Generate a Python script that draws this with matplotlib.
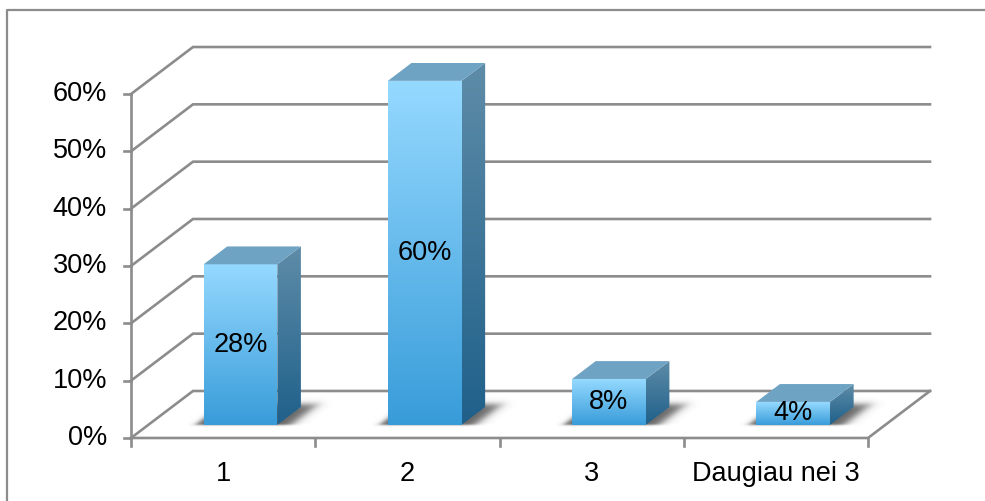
import numpy as np
import matplotlib.pyplot as plt
from matplotlib.patches import Polygon
from matplotlib.colors import LinearSegmentedColormap
from matplotlib.lines import Line2D

categories = ['1', '2', '3', 'Daugiau nei 3']
values = [28, 60, 8, 4]
y_ticks = [0, 10, 20, 30, 40, 50, 60]
y_tick_labels = ['0%', '10%', '20%', '30%', '40%', '50%', '60%']

plt.rcParams['font.family'] = ['Liberation Sans', 'DejaVu Sans']

# oblique projection of the depth axis
DX = 0.3365          # x shift of the back wall (categories)
DY = 8.2             # y shift of the back wall (percent)
Z0, Z1 = 0.28, 0.66  # front and back of the bars, fraction of the depth
BAR_W = 0.4
GRID = '#8c8c8c'
FS = 19.5

front_cmap = LinearSegmentedColormap.from_list('front', ['#389cd9', '#95d9ff'])
side_cmap = LinearSegmentedColormap.from_list('side', ['#1f608a', '#5e8ca8'])
TOP_COLOR = '#6fa3c4'


def proj(x, y, z):
    return (x + z * DX, y + z * DY)


def gradient_face(ax, verts, cmap, zorder):
    poly = Polygon(verts, closed=True, facecolor='none', edgecolor='none')
    ax.add_patch(poly)
    xs, ys = zip(*verts)
    grad = np.linspace(1, 0, 256).reshape(-1, 1)
    im = ax.imshow(grad, cmap=cmap, extent=[min(xs), max(xs), min(ys), max(ys)],
                   aspect='auto', origin='upper', interpolation='bilinear', zorder=zorder)
    im.set_clip_path(poly)


def floor_shadow(ax, xl, xr):
    # soft shadow cast on the floor behind and right of a bar
    X = np.linspace(xl - 0.15 + Z0 * DX, xr + 0.25 + Z1 * DX, 300)
    Y = np.linspace(Z0 * DY - 0.5, 0.9 * DY, 120)
    XX, YY = np.meshgrid(X, Y)
    z = YY / DY
    x = XX - z * DX
    sig = lambda t: 1.0 / (1.0 + np.exp(-t))
    ax_ = sig((x - (xl - 0.045)) / 0.012) * sig(((xr + 0.075) - x) / 0.02)
    az = sig((z - Z0) / 0.01) * sig(((Z1 + 0.05) - z) / 0.035)
    rgba = np.zeros(XX.shape + (4,))
    rgba[..., :3] = 0.2
    rgba[..., 3] = 0.75 * ax_ * az
    ax.imshow(rgba, extent=[X[0], X[-1], Y[0], Y[-1]], origin='lower',
              aspect='auto', interpolation='bilinear', zorder=2)


fig = plt.figure(figsize=(9.85, 5.01), dpi=100)
ax = fig.add_axes([0, 0, 1, 1])
ax.axis('off')

n = len(categories)

# back wall and left wall gridlines
for v in y_ticks:
    x0, y0 = proj(0, v, 0)
    x1, y1 = proj(0, v, 1)
    x2, y2 = proj(n, v, 1)
    ax.plot([x0, x1, x2], [y0, y1, y2], color=GRID, lw=1.9, zorder=1,
            solid_joinstyle='miter')

# floor right edge and front edge
fx, fy = proj(n, 0, 1)
ax.plot([0, n, fx], [0, 0, fy], color=GRID, lw=1.9, zorder=5)
# value axis and ticks
ax.plot([0, 0], [0, y_ticks[-1]], color=GRID, lw=1.9, zorder=5)
for v, lab in zip(y_ticks, y_tick_labels):
    ax.plot([-0.038, 0], [v, v], color=GRID, lw=1.9, zorder=5)
    ax.text(-0.13, v, lab, ha='right', va='center', fontsize=FS, zorder=6)
for i in range(n + 1):
    ax.plot([i, i], [0, -1.45], color=GRID, lw=1.9, zorder=5)
for i, cat in enumerate(categories):
    ax.text(i + 0.5, -6.3, cat, ha='center', va='center', fontsize=FS, zorder=6)

# 3d bars
for i, v in enumerate(values):
    xl, xr = i + 0.5 - BAR_W / 2, i + 0.5 + BAR_W / 2
    floor_shadow(ax, xl, xr)
    front = [proj(xl, 0, Z0), proj(xr, 0, Z0), proj(xr, v, Z0), proj(xl, v, Z0)]
    side = [proj(xr, 0, Z0), proj(xr, 0, Z1), proj(xr, v, Z1), proj(xr, v, Z0)]
    top = [proj(xl, v, Z0), proj(xr, v, Z0), proj(xr, v, Z1), proj(xl, v, Z1)]
    gradient_face(ax, front, front_cmap, 3)
    gradient_face(ax, side, side_cmap, 3)
    ax.add_patch(Polygon(top, closed=True, facecolor=TOP_COLOR, edgecolor='none', zorder=3))
    lx, ly = proj(i + 0.5, v / 2, Z0)
    ax.text(lx, ly, f'{v}%', ha='center', va='center', fontsize=FS, zorder=6)

ax.set_xlim(-0.711, 4.635)
ax.set_ylim(-10.99, 76.40)

# chart area border
fig.add_artist(Line2D([7 / 985, 7 / 985, 1], [0, 1 - 10 / 501, 1 - 10 / 501],
                      transform=fig.transFigure, color='#8c8c8c', lw=1.6))

fig.savefig('out.png', dpi=100)
